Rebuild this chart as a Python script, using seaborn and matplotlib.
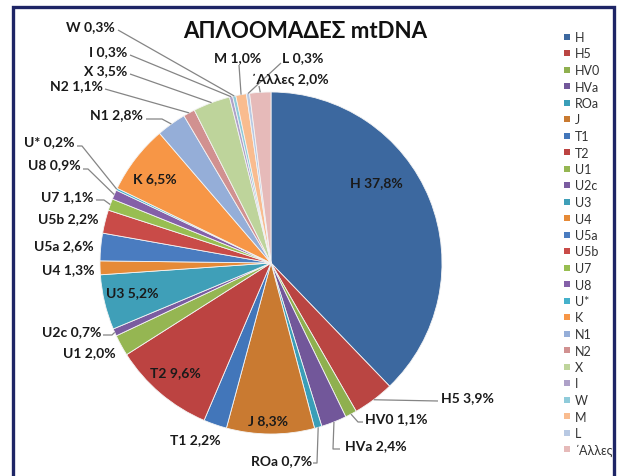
import matplotlib
matplotlib.use('Agg')
import matplotlib.pyplot as plt
import seaborn as sns
import numpy as np
from matplotlib.lines import Line2D

# ---------------- data ----------------
title = 'ΑΠΛΟΟΜΑΔΕΣ mtDNA'
categories = ['H', 'H5', 'HV0', 'HVa', 'ROa', 'J', 'T1', 'T2', 'U1', 'U2c', 'U3', 'U4',
              'U5a', 'U5b', 'U7', 'U8', 'U*', 'K', 'N1', 'N2', 'X', 'I', 'W', 'M', 'L',
              '΄Αλλες']
percentages = [37.8, 3.9, 1.1, 2.4, 0.7, 8.3, 2.2, 9.6, 2.0, 0.7, 5.2, 1.3,
               2.6, 2.2, 1.1, 0.9, 0.2, 6.5, 2.8, 1.1, 3.5, 0.3, 0.3, 1.0, 0.3,
               2.0]
colors = ['#3C689F', '#BA4542', '#8FB04F', '#72579A', '#3A9EB8', '#C97A31',
          '#4276BA', '#BC4341', '#95B652', '#7A5CA0', '#3F9FB8', '#E68A37',
          '#4A7CC0', '#C94B48', '#98BE51', '#8460A8', '#45B1CB', '#F79646',
          '#95AED8', '#D19190', '#BED49B', '#AEA1C8', '#8FCBDA', '#F9BC8F',
          '#B8C9E3', '#E6BAB9']

# ---------------- style ----------------
sns.set_theme(style='white')
plt.rcParams['font.family'] = ['Lato', 'Roboto', 'DejaVu Sans']

W, H = 621, 477
fig = plt.figure(figsize=(W / 100, H / 100), dpi=100)
fig.patch.set_facecolor('white')
ax = fig.add_axes([0, 0, 1, 1])

CX, CY, R = 271, 264, 171  # pie centre / radius in pixels (y from top)
wedges, _ = ax.pie(percentages, colors=colors, startangle=90, counterclock=False,
                   radius=R, center=(CX, H - CY), frame=True,
                   wedgeprops=dict(linewidth=0.6, edgecolor='#f4f4f4'))
ax.set_xlim(0, W)
ax.set_ylim(0, H)
ax.set_aspect('equal')
ax.axis('off')

# label layout: text anchor (px, y from top), alignment, leader path (px)
layout = {
    'H':   (376, 183, 'center', None),
    'H5':  (441, 398, 'left',  [(438, 402)]),
    'HV0': (365, 419, 'left',  [(358, 423), (363, 423)]),
    'HVa': (345, 446, 'left',  [(333, 450), (340, 450)]),
    'ROa': (312, 461, 'right', [(317, 464), (313, 464)]),
    'J':   (268, 421, 'center', None),
    'T1':  (195, 440, 'center', None),
    'T2':  (175, 373, 'center', None),
    'U1':  (116, 353, 'right', None),
    'U2c': (101, 332, 'right', [(112, 336), (103, 336)]),
    'U3':  (132, 293, 'center', None),
    'U4':  (94, 270, 'right', None),
    'U5a': (94, 246, 'right', None),
    'U5b': (98, 219, 'right', None),
    'U7':  (93, 197, 'right', [(104, 201), (96, 201)]),
    'U8':  (81, 165, 'right', [(88, 170), (83, 170)]),
    'U*':  (74, 142, 'right', [(82, 147), (77, 147)]),
    'K':   (155, 179, 'center', None),
    'N1':  (143, 115, 'right', [(162, 120), (146, 120)]),
    'N2':  (103, 86, 'right', [(105, 90)]),
    'X':   (127, 71, 'right', [(130, 75)]),
    'I':   (127, 52, 'right', [(130, 56)]),
    'W':   (115, 27, 'right', [(118, 31)]),
    'M':   (238, 58, 'center', [(239, 66)]),
    'L':   (282, 58, 'left', [(281, 64)]),
    '΄Αλλες': (290, 80, 'center', [(259, 87)]),
}

def fmt(v):
    return ('%.1f' % v).replace('.', ',') + '%'

line_col = '#858585'
for w, cat, val in zip(wedges, categories, percentages):
    x, y, ha, path = layout[cat]
    ang = np.deg2rad((w.theta1 + w.theta2) / 2)
    ex, ey = CX + R * np.cos(ang), (H - CY) + R * np.sin(ang)
    if path:
        xs = [ex] + [p[0] for p in path]
        ys = [ey] + [H - p[1] for p in path]
        ax.plot(xs, ys, color=line_col, lw=0.9, solid_capstyle='butt', zorder=1)
    ax.text(x, H - y, f'{cat} {fmt(val)}', ha=ha, va='center', fontsize=10,
            fontweight='bold', color='#1a1a1a', zorder=5)

# title
fig.text(305 / W, 1 - 32 / H, title, ha='center', va='center', fontsize=16,
         fontweight='bold', color='#111111')

# legend
handles = [Line2D([], [], marker='s', linestyle='none', markersize=5,
                  markerfacecolor=c, markeredgewidth=0) for c in colors]
leg = fig.legend(handles, categories, loc='upper left',
                 bbox_to_anchor=(563 / W, 1 - 32 / H), frameon=False,
                 fontsize=9, handlelength=0.6, handletextpad=0.35,
                 labelspacing=0.36, borderpad=0, borderaxespad=0)
for t in leg.get_texts():
    t.set_color('#333333')

# navy frame (left, top, right)
fc = '#1E2566'
fig.add_artist(Line2D([13 / W, 13 / W, 614 / W, 614 / W],
                      [0, 1 - 7.5 / H, 1 - 7.5 / H, 0],
                      transform=fig.transFigure, color=fc, lw=2.4,
                      solid_joinstyle='miter'))

fig.savefig('out.png', dpi=100, facecolor='white')
